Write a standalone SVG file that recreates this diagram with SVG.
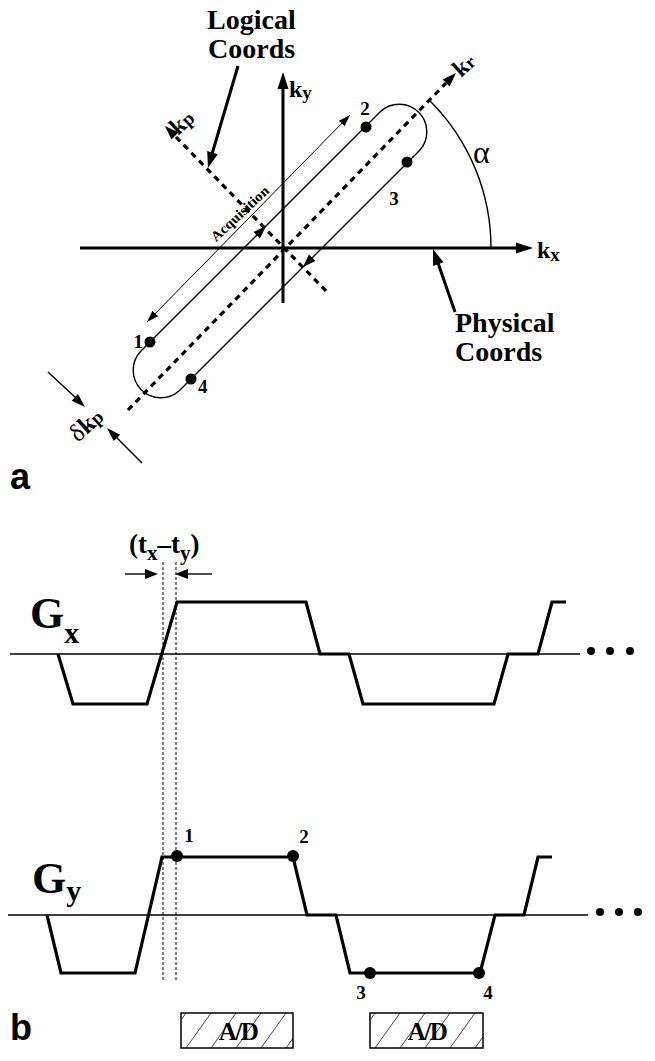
<svg xmlns="http://www.w3.org/2000/svg" width="655" height="1061" viewBox="0 0 655 1061">
<style>
.t{font-family:"Liberation Serif","Times New Roman",serif;font-weight:bold;fill:#000}
.s{font-family:"Liberation Sans",Arial,sans-serif;font-weight:bold;fill:#000}
.thick{stroke:#000;stroke-width:3;fill:none}
.thin{stroke:#000;stroke-width:1.4;fill:none}
.dash{stroke:#000;stroke-width:3.2;fill:none;stroke-dasharray:6 5}
.vd{stroke:#000;stroke-width:1;fill:none;stroke-dasharray:3 2}
.wave{stroke:#000;stroke-width:3.2;fill:none;stroke-linejoin:miter}
.hatch{stroke:#333;stroke-width:0.9}
</style>
<defs>
<marker id="ah" viewBox="0 0 12 8" refX="12" refY="4" markerWidth="12" markerHeight="8" markerUnits="userSpaceOnUse" orient="auto-start-reverse">
<path d="M0,0 L12,4 L0,8 Z" fill="#000"/>
</marker>
<clipPath id="c1"><rect x="181" y="1013" width="112" height="35"/></clipPath>
<clipPath id="c2"><rect x="370" y="1013" width="113" height="35"/></clipPath>
</defs>
<rect width="655" height="1061" fill="#fff"/>

<!-- Panel a -->
<g id="axes">
<line class="thick" x1="80" y1="248" x2="518" y2="248"/>
<polygon points="533,248 516,242.5 516,253.5" fill="#000"/>
<line class="thick" x1="283" y1="303" x2="283" y2="88"/>
<polygon points="283,72 277.5,89 288.5,89" fill="#000"/>
<text class="t" x="537" y="258" font-size="24">k<tspan font-size="19" dy="3">x</tspan></text>
<text class="t" x="289" y="97" font-size="24">k<tspan font-size="19" dy="2">y</tspan></text>
</g>

<g id="logical-axes">
<line class="dash" x1="128" y1="410" x2="446" y2="83"/>
<polygon points="456,73 449.6,86.4 442.6,79.4" fill="#000"/>
<text class="t" font-size="24" transform="translate(461,78) rotate(-42)">k<tspan font-size="18">r</tspan></text>
<line class="dash" x1="176" y1="137" x2="328" y2="293"/>
<polygon points="165,126 178.4,132.4 171.4,139.4" fill="#000"/>
<text class="t" font-size="24" transform="translate(178,136) rotate(-42)">k<tspan font-size="19">p</tspan></text>
</g>

<g id="trajectory">
<path class="thin" d="M380.5,111.5 L140.5,351.5 A27.6,27.6 0 0 0 179.5,390.5 L419.5,150.5 A27.6,27.6 0 0 0 380.5,111.5 Z"/>
<polygon points="266,226 260,238.4 253.6,232" fill="#000"/>
<polygon points="303,267 315.4,261 309,254.6" fill="#000"/>
<circle cx="150" cy="342" r="5.5" fill="#000"/>
<circle cx="366" cy="127" r="5.5" fill="#000"/>
<circle cx="407" cy="162" r="5.5" fill="#000"/>
<circle cx="191" cy="379" r="5.5" fill="#000"/>
<text class="t" x="143" y="348" font-size="19" text-anchor="end">1</text>
<text class="t" x="365" y="115" font-size="19" text-anchor="middle">2</text>
<text class="t" x="394" y="205" font-size="19" text-anchor="middle">3</text>
<text class="t" x="198" y="393" font-size="19">4</text>
</g>

<g id="acquisition">
<line x1="147" y1="322" x2="350" y2="115" stroke="#000" stroke-width="1" marker-start="url(#ah)" marker-end="url(#ah)"/>
<text class="t" font-size="14" text-anchor="middle" textLength="74" lengthAdjust="spacingAndGlyphs" transform="translate(243,217) rotate(-43)">Acquisition</text>
</g>

<g id="alpha">
<path class="thin" d="M430.1,100.9 A208,208 0 0 1 491,248"/>
<text x="473" y="163" font-family="Liberation Serif, serif" font-size="32" fill="#000">α</text>
</g>

<g id="logical-label">
<text class="t" x="207" y="29" font-size="28">Logical</text>
<text class="t" x="208" y="58" font-size="28">Coords</text>
<line class="thick" x1="238" y1="66" x2="212" y2="154"/>
<polygon points="208,168 217.8,154.2 207.2,151.1" fill="#000"/>
</g>

<g id="physical-label">
<text class="t" x="455" y="332" font-size="28">Physical</text>
<text class="t" x="455" y="361" font-size="28">Coords</text>
<line class="thick" x1="455" y1="312" x2="438" y2="263"/>
<polygon points="433,249 443.5,262.3 433.1,265.9" fill="#000"/>
</g>

<g id="dkp">
<line class="thin" x1="48" y1="372" x2="76" y2="398"/>
<polygon points="85,407 71.7,400.7 77.9,394.1" fill="#000"/>
<line class="thin" x1="142" y1="463" x2="116" y2="437"/>
<polygon points="107,428 120.1,434.7 113.7,441.1" fill="#000"/>
<text font-size="25" transform="translate(78,443) rotate(-42)"><tspan font-family="Liberation Serif, serif" fill="#000">δ</tspan><tspan class="t">k</tspan><tspan class="t" font-size="19">p</tspan></text>
</g>

<text class="s" x="10" y="489" font-size="36">a</text>

<!-- Panel b -->
<g id="Gx">
<line class="thin" x1="10" y1="654" x2="580" y2="654" stroke-width="1.3"/>
<path class="wave" d="M58,654 L73,704 L147,704 L177,602 L306,602 L320,654 L349,654 L363,704 L494,704 L508,654 L538,654 L552,602 L566,602"/>
<text class="t" x="30" y="628" font-size="44">G<tspan font-size="30" dy="15">x</tspan></text>
<circle cx="591" cy="651" r="4" fill="#000"/>
<circle cx="610" cy="651" r="4" fill="#000"/>
<circle cx="630" cy="651" r="4" fill="#000"/>
</g>

<g id="timing">
<line class="vd" x1="163" y1="562" x2="163" y2="982"/>
<line class="vd" x1="176" y1="562" x2="176" y2="982"/>
<line class="thin" x1="125" y1="574" x2="147" y2="574" stroke-width="2"/>
<polygon points="158,574 145,569 145,579" fill="#000"/>
<line class="thin" x1="212" y1="574" x2="186" y2="574" stroke-width="2"/>
<polygon points="175,574 188,569 188,579" fill="#000"/>
<text class="t" x="129" y="553" font-size="27">(t<tspan font-size="21" dy="7">x</tspan><tspan dy="-7">–t</tspan><tspan font-size="21" dy="7">y</tspan><tspan dy="-7">)</tspan></text>
</g>

<g id="Gy">
<line class="thin" x1="8" y1="915" x2="588" y2="915" stroke-width="1.3"/>
<path class="wave" d="M47,915 L61,973 L135,973 L162,857 L293,857 L307,915 L336,915 L350,973 L480,973 L495,915 L524,915 L538,857 L552,857"/>
<text class="t" x="32" y="893" font-size="44">G<tspan font-size="30" dy="8">y</tspan></text>
<circle cx="177" cy="856" r="6" fill="#000"/>
<circle cx="293" cy="856" r="6" fill="#000"/>
<circle cx="370" cy="973" r="6" fill="#000"/>
<circle cx="479" cy="973" r="6" fill="#000"/>
<text class="t" x="189" y="842" font-size="19" text-anchor="middle">1</text>
<text class="t" x="304" y="843" font-size="19" text-anchor="middle">2</text>
<text class="t" x="361" y="999" font-size="19" text-anchor="middle">3</text>
<text class="t" x="488" y="999" font-size="19" text-anchor="middle">4</text>
<circle cx="600" cy="912" r="4" fill="#000"/>
<circle cx="619" cy="912" r="4" fill="#000"/>
<circle cx="638" cy="912" r="4" fill="#000"/>
</g>

<g id="AD1">
<g clip-path="url(#c1)">
<line class="hatch" x1="161" y1="1048" x2="186" y2="1013"/>
<line class="hatch" x1="186" y1="1048" x2="211" y2="1013"/>
<line class="hatch" x1="211" y1="1048" x2="236" y2="1013"/>
<line class="hatch" x1="236" y1="1048" x2="261" y2="1013"/>
<line class="hatch" x1="261" y1="1048" x2="286" y2="1013"/>
<line class="hatch" x1="286" y1="1048" x2="311" y2="1013"/>
</g>
<rect x="181" y="1013" width="112" height="35" fill="none" stroke="#000" stroke-width="1.5"/>
<text class="t" x="238" y="1040" font-size="25" text-anchor="middle" letter-spacing="-1.5">A/D</text>
</g>

<g id="AD2">
<g clip-path="url(#c2)">
<line class="hatch" x1="350" y1="1048" x2="375" y2="1013"/>
<line class="hatch" x1="375" y1="1048" x2="400" y2="1013"/>
<line class="hatch" x1="400" y1="1048" x2="425" y2="1013"/>
<line class="hatch" x1="425" y1="1048" x2="450" y2="1013"/>
<line class="hatch" x1="450" y1="1048" x2="475" y2="1013"/>
<line class="hatch" x1="475" y1="1048" x2="500" y2="1013"/>
</g>
<rect x="370" y="1013" width="113" height="35" fill="none" stroke="#000" stroke-width="1.5"/>
<text class="t" x="427" y="1040" font-size="25" text-anchor="middle" letter-spacing="-1.5">A/D</text>
</g>

<text class="s" x="10" y="1040" font-size="36">b</text>
</svg>
